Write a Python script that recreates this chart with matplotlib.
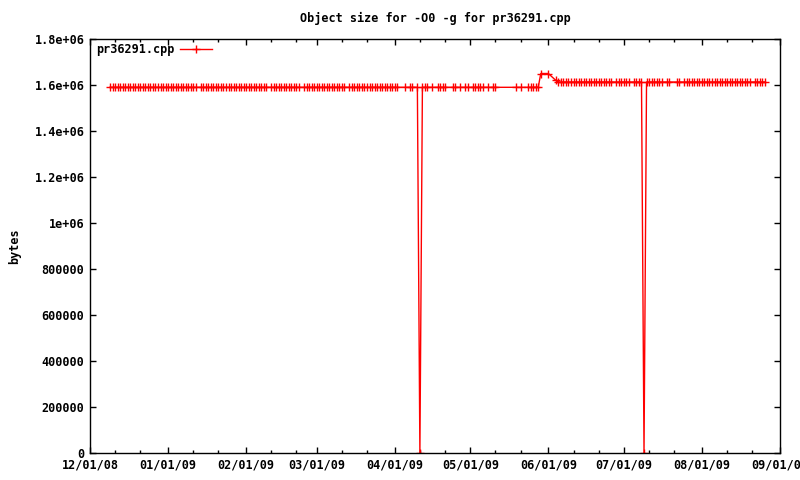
import datetime as dt
import matplotlib
matplotlib.use('Agg')
import matplotlib.pyplot as plt
import matplotlib.dates as mdates
from matplotlib.ticker import FixedLocator, FixedFormatter

plt.rcParams['font.family'] = ['DejaVu Sans Mono']
plt.rcParams['font.weight'] = 'bold'
plt.rcParams['font.size'] = 8.5

# days of each month that have a sample
dec08 = list(range(9, 32))
jan09 = [d for d in range(1, 32) if d != 13]
feb09 = [d for d in range(1, 29) if d not in (10, 23)]
mar09 = [d for d in range(1, 32) if d != 13]
apr09 = [1, 2, 5, 7, 8, 10, 11, 12, 13, 14, 16, 18, 19, 20, 21, 24, 25, 27, 29, 30]
may09 = [2, 3, 4, 5, 6, 8, 10, 11, 19, 21, 24, 25, 26, 27, 28, 29]
jun09 = [1] + [d for d in range(4, 31) if d != 27]
jul09 = [1, 2, 3, 5, 6, 7, 8, 9, 10, 11, 12, 13, 14, 15, 16, 18, 19, 22, 23,
         25, 26, 27, 28, 29, 30, 31]
aug09 = [d for d in range(1, 27) if d != 21]

months = [(2008, 12, dec08), (2009, 1, jan09), (2009, 2, feb09), (2009, 3, mar09),
          (2009, 4, apr09), (2009, 5, may09), (2009, 6, jun09), (2009, 7, jul09),
          (2009, 8, aug09)]

# object size levels (bytes)
size_before = 1590000
size_peak = 1650000
size_after_peak = 1620000
size_after = 1613000
zero_days = [dt.date(2009, 4, 11), dt.date(2009, 7, 9)]
peak_days = [dt.date(2009, 5, 29), dt.date(2009, 6, 1)]
step_day = dt.date(2009, 6, 4)

dates = []
sizes = []
for y, m, days in months:
    for d in days:
        day = dt.date(y, m, d)
        dates.append(day)
        if day in zero_days:
            sizes.append(0)
        elif day in peak_days:
            sizes.append(size_peak)
        elif day == step_day:
            sizes.append(size_after_peak)
        elif day < peak_days[0]:
            sizes.append(size_before)
        else:
            sizes.append(size_after)

ytick_vals = [0, 200000, 400000, 600000, 800000, 1000000, 1200000, 1400000, 1600000, 1800000]
ytick_labels = ['0', '200000', '400000', '600000', '800000', '1e+06', '1.2e+06',
                '1.4e+06', '1.6e+06', '1.8e+06']

fig = plt.figure(figsize=(8, 4.8), dpi=100)
ax = fig.add_axes([0.1125, 0.05625, 0.8625, 0.8625])

ax.plot(dates, sizes, color='#ff0000', lw=1, marker='+', ms=6, mew=1,
        label='pr36291.cpp')

ax.set_xlim(dt.date(2008, 12, 1), dt.date(2009, 9, 1))
ax.set_ylim(0, 1800000)

ax.xaxis.set_major_locator(mdates.MonthLocator())
ax.xaxis.set_minor_locator(mdates.DayLocator(bymonthday=[11, 21]))
ax.xaxis.set_major_formatter(mdates.DateFormatter('%m/%d/%y'))
ax.yaxis.set_major_locator(FixedLocator(ytick_vals))
ax.yaxis.set_major_formatter(FixedFormatter(ytick_labels))

ax.tick_params(which='both', direction='in', top=True, right=True, width=1,
               labelsize=8.5, colors='black')
ax.tick_params(which='major', length=4.5, pad=4)
ax.tick_params(which='minor', length=2.5)
for s in ax.spines.values():
    s.set_linewidth(1)
    s.set_color('black')

ax.set_title('Object size for -O0 -g for pr36291.cpp', fontsize=8.5,
             fontweight='bold', pad=12)
ax.set_ylabel('bytes', fontsize=8.5, fontweight='bold', labelpad=10)

ax.legend(loc='upper left', bbox_to_anchor=(-0.007, 1.015), frameon=False,
          markerfirst=False, handlelength=2.7, handletextpad=0.5,
          prop={'family': 'DejaVu Sans Mono', 'weight': 'bold', 'size': 8.5})

fig.savefig('out.png', dpi=100)
